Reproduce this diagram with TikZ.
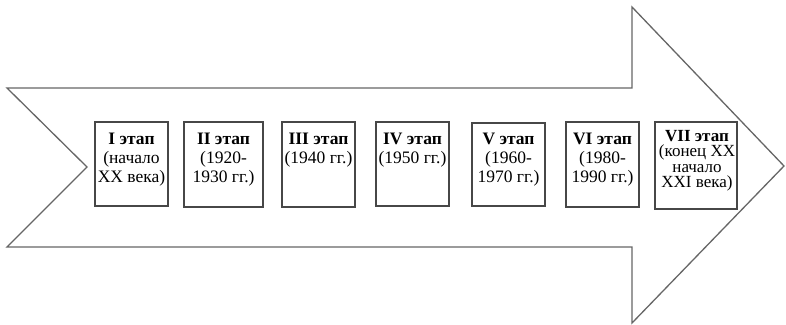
\documentclass[tikz,border=0pt]{standalone}
\usepackage{fontspec}
\setmainfont{Liberation Serif}
\begin{document}
\begin{tikzpicture}[x=1pt,y=-1pt,
  outline/.style={draw=black!60, line width=1.3pt, line join=miter},
  stagebox/.style={draw=black!72, line width=1.2pt, fill=white},
  lbl/.style={anchor=north, align=center, inner sep=0pt, font=\fontsize{17.5}{19}\selectfont, text=black},
  lblsmall/.style={anchor=north, align=center, inner sep=0pt, font=\fontsize{17}{15.5}\selectfont, text=black}]
\useasboundingbox (0,0) rectangle (786,324);
\draw[outline, fill=white] (7,88) -- (632,88) -- (632,7) -- (784,166) -- (632,323) -- (632,247) -- (7,247) -- (87,167) -- cycle;
\draw[stagebox] (95,122) rectangle (168,206);
\coordinate (b1) at (131.5,133);
\draw[stagebox] (184,122) rectangle (263,207);
\coordinate (b2) at (223.5,133);
\draw[stagebox] (282,122) rectangle (355,207);
\coordinate (b3) at (318.5,133);
\draw[stagebox] (376,122) rectangle (449,206);
\coordinate (b4) at (412.5,133);
\draw[stagebox] (472,123) rectangle (545,206);
\coordinate (b5) at (508.5,133);
\draw[stagebox] (566,122) rectangle (639,207);
\coordinate (b6) at (602.5,133);
\draw[stagebox] (655,122) rectangle (737,209);
\coordinate (b7) at (697,130);
\node[lbl] (t1) at (b1) {\textbf{I этап}\\(начало\\XX века)};
\node[lbl] (t2) at (b2) {\textbf{II этап}\\(1920-\\1930 гг.)};
\node[lbl] (t3) at (b3) {\textbf{III этап}\\(1940 гг.)};
\node[lbl] (t4) at (b4) {\textbf{IV этап}\\(1950 гг.)};
\node[lbl] (t5) at (b5) {\textbf{V этап}\\(1960-\\1970 гг.)};
\node[lbl] (t6) at (b6) {\textbf{VI этап}\\(1980-\\1990 гг.)};
\node[lblsmall] (t7) at (b7) {\textbf{VII этап}\\(конец XX\\начало\\XXI века)};
\end{tikzpicture}
\end{document}
